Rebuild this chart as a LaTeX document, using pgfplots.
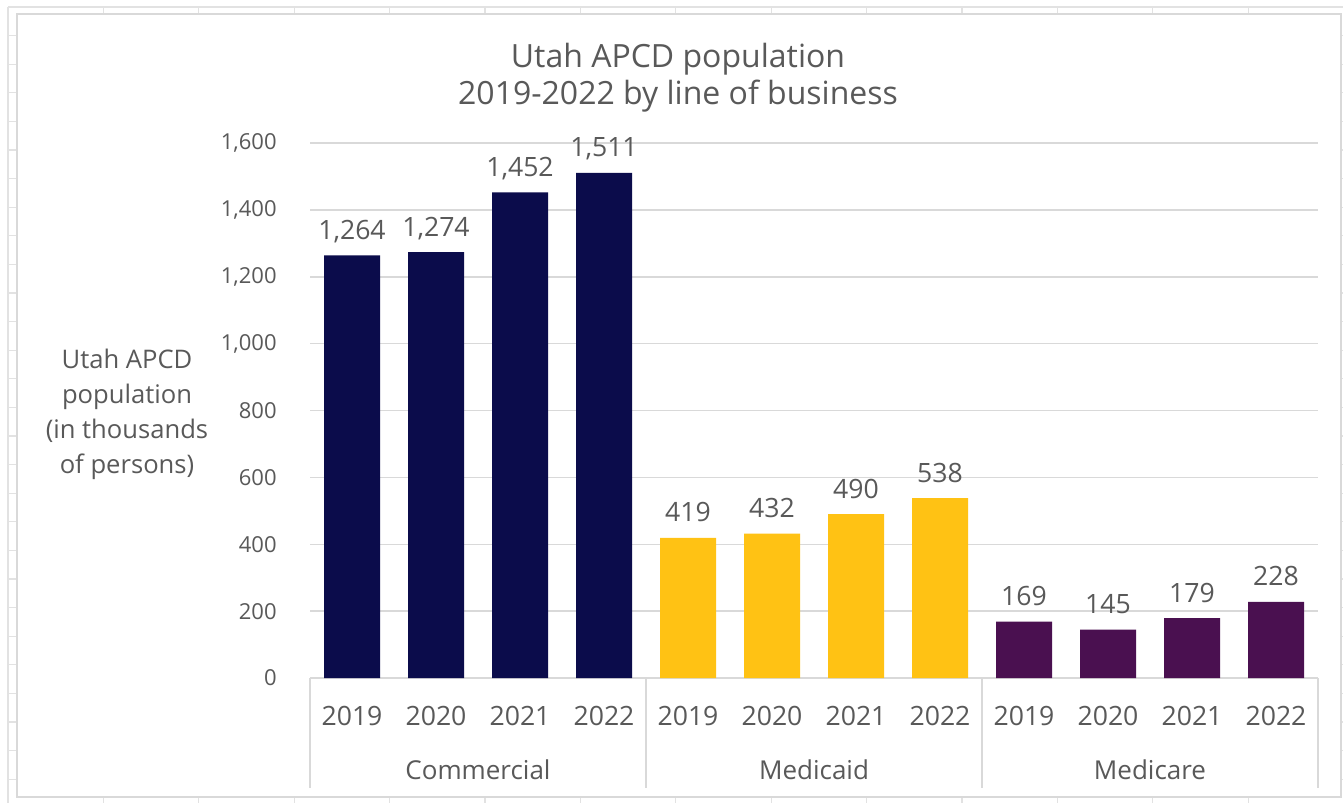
\documentclass[border=0pt]{standalone}
\usepackage{pgfplots}
\pgfplotsset{compat=1.18}
\usepackage{fontspec}
\setmainfont{Open Sans}
\definecolor{navy}{RGB}{11,12,75}
\definecolor{gold}{RGB}{255,194,20}
\definecolor{plum}{RGB}{74,16,80}
\definecolor{txt}{RGB}{89,89,89}
\definecolor{gridc}{RGB}{217,217,217}
\definecolor{sheet}{RGB}{226,226,226}
\newcommand{\tickfont}{\fontsize{11}{13}\selectfont}
\newcommand{\labfont}{\fontsize{13.3}{16}\selectfont}
\newcommand{\grpfont}{\fontsize{13}{16}\selectfont}
\newcommand{\ylabfont}{\fontsize{12.8}{15}\selectfont}
\begin{document}
\begin{tikzpicture}[x=0.5pt,y=-0.5pt]
\path[use as bounding box] (0,0) rectangle (1343,803);
\foreach \i in {0,...,14} \draw[sheet, line width=0.6pt] ({8+95.4*\i},7) -- ({8+95.4*\i},803);
\foreach \j in {0,...,28} \draw[sheet, line width=0.6pt] (8,{7+28.6*\j}) -- (1343,{7+28.6*\j});
\draw[gridc, line width=0.75pt, fill=white] (17,14) rectangle (1341,797);
\coordinate (O) at (310,678);
\begin{axis}[
  at={(O)}, anchor=south west, scale only axis,
  width=504pt, height=267.5pt,
  xmin=-0.5, xmax=11.5, ymin=0, ymax=1600,
  axis x line=bottom, axis y line=left,
  x axis line style={gridc, line width=0.75pt, -},
  y axis line style={draw=none},
  major tick length=0pt,
  ytick={0,200,...,1600},
  ymajorgrids, major grid style={gridc, line width=0.75pt},
  xtick={0,...,11},
  xticklabels={2019,2020,2021,2022,2019,2020,2021,2022,2019,2020,2021,2022},
  xticklabel style={font=\labfont, text=txt, anchor=base, inner sep=0pt, yshift=-23.5pt},
  yticklabel style={font=\tickfont, text=txt, anchor=east, inner sep=0pt, xshift=-16.5pt},
  /pgf/number format/.cd, 1000 sep={,}, assume math mode=true,
  /pgfplots/.cd,
  every node near coord/.append style={font=\labfont, text=txt, anchor=base, inner sep=0pt, yshift=8pt},
  clip=false,
]
\addplot[ybar, bar width=28pt, bar shift=0pt, fill=navy, draw=none, nodes near coords] coordinates {(0,1264) (1,1274) (2,1452) (3,1511)};
\addplot[ybar, bar width=28pt, bar shift=0pt, fill=gold, draw=none, nodes near coords] coordinates {(4,419) (5,432) (6,490) (7,538)};
\addplot[ybar, bar width=28pt, bar shift=0pt, fill=plum, draw=none, nodes near coords] coordinates {(8,169) (9,145) (10,179) (11,228)};
\end{axis}
\foreach \xx in {310,646,982,1318} \draw[gridc, line width=0.75pt] (\xx,678) -- (\xx,788);
\node[anchor=base, font=\grpfont, text=txt] at (478,779) {Commercial};
\node[anchor=base, font=\grpfont, text=txt] at (814,779) {Medicaid};
\node[anchor=base, font=\grpfont, text=txt] at (1150,779) {Medicare};
\node[anchor=base, font=\fontsize{16}{19}\selectfont, text=txt] at (678,67) {Utah APCD population};
\node[anchor=base, font=\fontsize{16}{19}\selectfont, text=txt] at (678,104) {2019-2022 by line of business};
\node[anchor=base, font=\ylabfont, text=txt] at (127,368) {Utah APCD};
\node[anchor=base, font=\ylabfont, text=txt] at (127,403) {population};
\node[anchor=base, font=\ylabfont, text=txt] at (127,438) {(in thousands};
\node[anchor=base, font=\ylabfont, text=txt] at (127,473) {of persons)};
\end{tikzpicture}
\end{document}
